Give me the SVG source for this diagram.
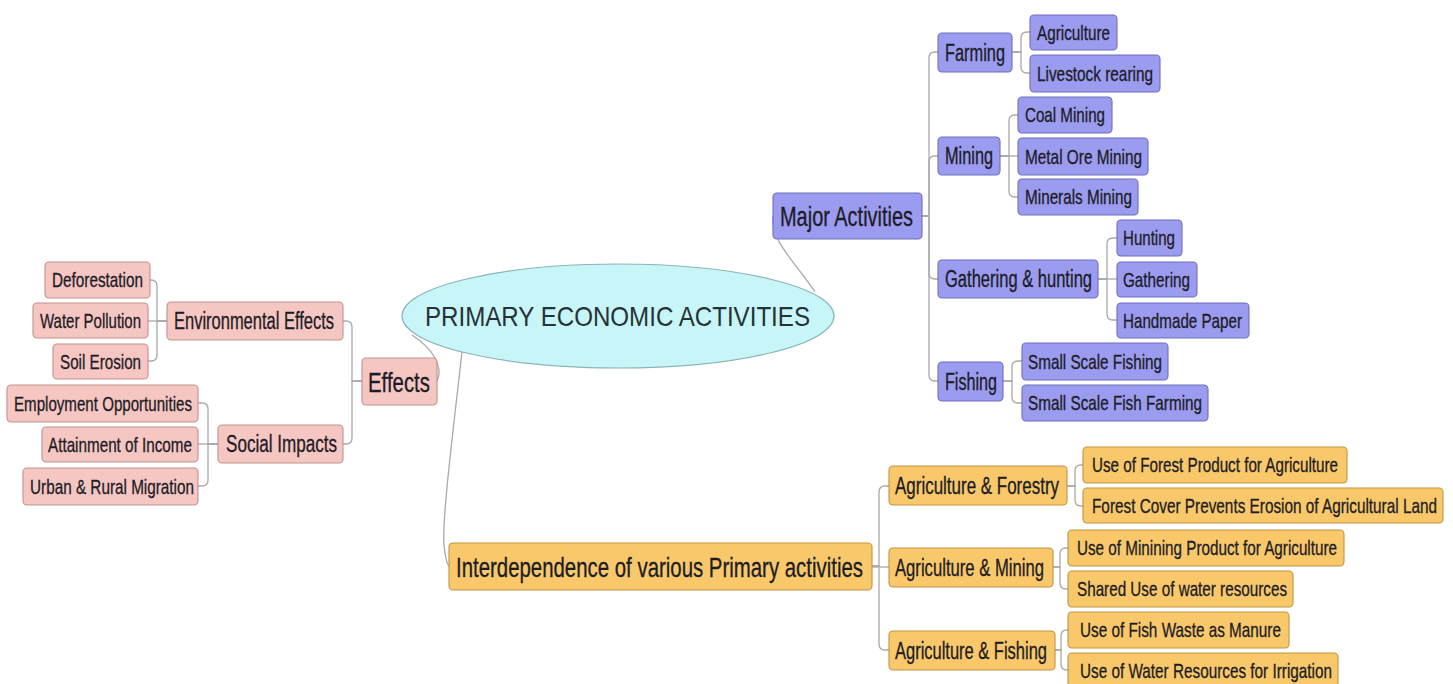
<svg xmlns="http://www.w3.org/2000/svg" width="1453" height="684" viewBox="0 0 1453 684">
<style>
text{font-family:"Liberation Sans",Arial,sans-serif;fill:#1c1c26;stroke:#1c1c26;stroke-width:0.3;}
.t1{font-size:20px;}
.t2{font-size:23px;}
.t3{font-size:27px;}
.p rect{fill:#f6c6c2;stroke:#c0928e;stroke-width:1.1;}
.b rect{fill:#9b9bef;stroke:#6f6fc0;stroke-width:1.1;}
.o rect{fill:#f9c86a;stroke:#c09444;stroke-width:1.1;}
#connectors path{fill:none;stroke:#a9a9a9;stroke-width:1.3;}
</style>
<rect width="1453" height="684" fill="#ffffff"/>
<g id="connectors">
<path d="M412 335 C432 348 444 366 437 381"/>
<path d="M815 292 C795 262 770 240 773 216"/>
<path d="M462 352 C452 440 442 520 444 545 Q446 564 449 566"/>
<path d="M167 321 H157 V286 Q157 280 151 280 H150"/>
<path d="M167 321 H148"/>
<path d="M167 321 H157 V355 Q157 361 151 361 H148"/>
<path d="M362 381 H352 V327 Q352 321 346 321 H343"/>
<path d="M362 381 H352 V438 Q352 444 346 444 H343"/>
<path d="M218 444 H208 V409 Q208 403 202 403 H198"/>
<path d="M218 444 H198"/>
<path d="M218 444 H208 V480 Q208 486 202 486 H198"/>
<path d="M922 216 H929 V58 Q929 52 935 52 H938"/>
<path d="M922 216 H929 V162 Q929 156 935 156 H938"/>
<path d="M922 216 H929 V273 Q929 279 935 279 H938"/>
<path d="M922 216 H929 V375 Q929 381 935 381 H938"/>
<path d="M1012 52 H1021 V38 Q1021 32 1027 32 H1030"/>
<path d="M1012 52 H1021 V67 Q1021 73 1027 73 H1030"/>
<path d="M1000 156 H1009 V121 Q1009 115 1015 115 H1018"/>
<path d="M1000 156 H1018"/>
<path d="M1000 156 H1009 V191 Q1009 197 1015 197 H1018"/>
<path d="M1098 279 H1107 V244 Q1107 238 1113 238 H1117"/>
<path d="M1098 279 H1117"/>
<path d="M1098 279 H1107 V314 Q1107 320 1113 320 H1117"/>
<path d="M1003 381 H1012 V367 Q1012 361 1018 361 H1022"/>
<path d="M1003 381 H1012 V397 Q1012 403 1018 403 H1022"/>
<path d="M872 566 H879 V492 Q879 486 885 486 H889"/>
<path d="M872 567 H889"/>
<path d="M872 566 H879 V644 Q879 650 885 650 H889"/>
<path d="M1067 486 H1075 V471 Q1075 465 1081 465 H1083"/>
<path d="M1067 486 H1075 V500 Q1075 506 1081 506 H1083"/>
<path d="M1053 567 H1060 V554 Q1060 548 1066 548 H1068"/>
<path d="M1053 567 H1060 V583 Q1060 589 1066 589 H1068"/>
<path d="M1055 650 H1061 V636 Q1061 630 1067 630 H1068"/>
<path d="M1055 650 H1061 V664 Q1061 670 1067 670 H1068"/>
</g>
<g id="root">
<ellipse cx="618" cy="316" rx="216" ry="52" fill="#c8f5f8" stroke="#8ab5b8" stroke-width="1.2"/>
<text transform="translate(425 326) scale(0.82 1)" font-size="28" textLength="469.5" lengthAdjust="spacingAndGlyphs" style="fill:#263236;stroke:none">PRIMARY ECONOMIC ACTIVITIES</text>
</g>
<g id="n-deforestation" class="p"><rect x="45" y="262" width="105" height="36" rx="4"/><text class="t1" transform="translate(52 287) scale(0.73 1)" textLength="124.7" lengthAdjust="spacingAndGlyphs">Deforestation</text></g>
<g id="n-water-pollution" class="p"><rect x="33" y="303" width="115" height="35" rx="4"/><text class="t1" transform="translate(40 327.5) scale(0.73 1)" textLength="138.4" lengthAdjust="spacingAndGlyphs">Water Pollution</text></g>
<g id="n-soil-erosion" class="p"><rect x="53" y="344" width="95" height="35" rx="4"/><text class="t1" transform="translate(60 368.5) scale(0.73 1)" textLength="111" lengthAdjust="spacingAndGlyphs">Soil Erosion</text></g>
<g id="n-environmental-effects" class="p"><rect x="167" y="302" width="176" height="38" rx="4"/><text class="t2" transform="translate(174 329) scale(0.73 1)" textLength="219.2" lengthAdjust="spacingAndGlyphs">Environmental Effects</text></g>
<g id="n-effects" class="p"><rect x="362" y="358" width="75" height="47" rx="4"/><text class="t3" transform="translate(368 391.5) scale(0.73 1)" textLength="84.9" lengthAdjust="spacingAndGlyphs">Effects</text></g>
<g id="n-employment" class="p"><rect x="7" y="385" width="191" height="37" rx="4"/><text class="t1" transform="translate(14 410.5) scale(0.73 1)" textLength="243.8" lengthAdjust="spacingAndGlyphs">Employment Opportunities</text></g>
<g id="n-attainment" class="p"><rect x="42" y="427" width="156" height="35" rx="4"/><text class="t1" transform="translate(48 451.5) scale(0.73 1)" textLength="197.3" lengthAdjust="spacingAndGlyphs">Attainment of Income</text></g>
<g id="n-migration" class="p"><rect x="23" y="468" width="175" height="37" rx="4"/><text class="t1" transform="translate(30 493.5) scale(0.73 1)" textLength="224.7" lengthAdjust="spacingAndGlyphs">Urban &amp; Rural Migration</text></g>
<g id="n-social-impacts" class="p"><rect x="218" y="425" width="125" height="38" rx="4"/><text class="t2" transform="translate(226 452) scale(0.73 1)" textLength="152.1" lengthAdjust="spacingAndGlyphs">Social Impacts</text></g>
<g id="n-major-activities" class="b"><rect x="773" y="193" width="149" height="46" rx="4"/><text class="t3" transform="translate(780 226) scale(0.73 1)" textLength="182.2" lengthAdjust="spacingAndGlyphs">Major Activities</text></g>
<g id="n-farming" class="b"><rect x="938" y="33" width="74" height="39" rx="4"/><text class="t2" transform="translate(945 60.5) scale(0.73 1)" textLength="82.2" lengthAdjust="spacingAndGlyphs">Farming</text></g>
<g id="n-agriculture" class="b"><rect x="1030" y="15" width="87" height="35" rx="4"/><text class="t1" transform="translate(1037 39.5) scale(0.73 1)" textLength="100" lengthAdjust="spacingAndGlyphs">Agriculture</text></g>
<g id="n-livestock" class="b"><rect x="1030" y="55" width="130" height="37" rx="4"/><text class="t1" transform="translate(1037 80.5) scale(0.73 1)" textLength="158.9" lengthAdjust="spacingAndGlyphs">Livestock rearing</text></g>
<g id="n-mining" class="b"><rect x="938" y="137" width="62" height="38" rx="4"/><text class="t2" transform="translate(945 164) scale(0.73 1)" textLength="65.8" lengthAdjust="spacingAndGlyphs">Mining</text></g>
<g id="n-coal-mining" class="b"><rect x="1018" y="97" width="94" height="36" rx="4"/><text class="t1" transform="translate(1025 122) scale(0.73 1)" textLength="109.6" lengthAdjust="spacingAndGlyphs">Coal Mining</text></g>
<g id="n-metal-ore" class="b"><rect x="1018" y="138" width="130" height="37" rx="4"/><text class="t1" transform="translate(1025 163.5) scale(0.73 1)" textLength="160.3" lengthAdjust="spacingAndGlyphs">Metal Ore Mining</text></g>
<g id="n-minerals" class="b"><rect x="1018" y="179" width="120" height="36" rx="4"/><text class="t1" transform="translate(1025 204) scale(0.73 1)" textLength="146.6" lengthAdjust="spacingAndGlyphs">Minerals Mining</text></g>
<g id="n-gathering-hunting" class="b"><rect x="938" y="260" width="160" height="38" rx="4"/><text class="t2" transform="translate(945 287) scale(0.73 1)" textLength="201.4" lengthAdjust="spacingAndGlyphs">Gathering &amp; hunting</text></g>
<g id="n-hunting" class="b"><rect x="1117" y="220" width="65" height="36" rx="4"/><text class="t1" transform="translate(1123 245) scale(0.73 1)" textLength="71.2" lengthAdjust="spacingAndGlyphs">Hunting</text></g>
<g id="n-gathering" class="b"><rect x="1117" y="262" width="80" height="35" rx="4"/><text class="t1" transform="translate(1123 286.5) scale(0.73 1)" textLength="91.8" lengthAdjust="spacingAndGlyphs">Gathering</text></g>
<g id="n-handmade-paper" class="b"><rect x="1117" y="303" width="132" height="35" rx="4"/><text class="t1" transform="translate(1123 327.5) scale(0.73 1)" textLength="163" lengthAdjust="spacingAndGlyphs">Handmade Paper</text></g>
<g id="n-fishing" class="b"><rect x="938" y="362" width="65" height="39" rx="4"/><text class="t2" transform="translate(945 389.5) scale(0.73 1)" textLength="71.2" lengthAdjust="spacingAndGlyphs">Fishing</text></g>
<g id="n-small-scale-fishing" class="b"><rect x="1022" y="343" width="146" height="37" rx="4"/><text class="t1" transform="translate(1028 368.5) scale(0.73 1)" textLength="183.6" lengthAdjust="spacingAndGlyphs">Small Scale Fishing</text></g>
<g id="n-small-scale-fish-farming" class="b"><rect x="1022" y="385" width="186" height="36" rx="4"/><text class="t1" transform="translate(1028 410) scale(0.73 1)" textLength="238.4" lengthAdjust="spacingAndGlyphs">Small Scale Fish Farming</text></g>
<g id="n-interdependence" class="o"><rect x="449" y="543" width="423" height="47" rx="4"/><text class="t3" transform="translate(456 576.5) scale(0.73 1)" textLength="557.5" lengthAdjust="spacingAndGlyphs">Interdependence of various Primary activities</text></g>
<g id="n-ag-forestry" class="o"><rect x="889" y="466" width="178" height="39" rx="4"/><text class="t2" transform="translate(895 493.5) scale(0.73 1)" textLength="224.7" lengthAdjust="spacingAndGlyphs">Agriculture &amp; Forestry</text></g>
<g id="n-ag-mining" class="o"><rect x="889" y="548" width="164" height="39" rx="4"/><text class="t2" transform="translate(895 575.5) scale(0.73 1)" textLength="204.1" lengthAdjust="spacingAndGlyphs">Agriculture &amp; Mining</text></g>
<g id="n-ag-fishing" class="o"><rect x="889" y="631" width="166" height="39" rx="4"/><text class="t2" transform="translate(895 658.5) scale(0.73 1)" textLength="208.2" lengthAdjust="spacingAndGlyphs">Agriculture &amp; Fishing</text></g>
<g id="n-forest-product" class="o"><rect x="1083" y="447" width="264" height="36" rx="4"/><text class="t1" transform="translate(1092 472) scale(0.73 1)" textLength="337" lengthAdjust="spacingAndGlyphs">Use of Forest Product for Agriculture</text></g>
<g id="n-forest-cover" class="o"><rect x="1083" y="488" width="360" height="35" rx="4"/><text class="t1" transform="translate(1092 512.5) scale(0.73 1)" textLength="472.6" lengthAdjust="spacingAndGlyphs">Forest Cover Prevents Erosion of Agricultural Land</text></g>
<g id="n-minining-product" class="o"><rect x="1068" y="530" width="276" height="36" rx="4"/><text class="t1" transform="translate(1077 555) scale(0.73 1)" textLength="356.2" lengthAdjust="spacingAndGlyphs">Use of Minining Product for Agriculture</text></g>
<g id="n-shared-water" class="o"><rect x="1068" y="571" width="225" height="36" rx="4"/><text class="t1" transform="translate(1077 596) scale(0.73 1)" textLength="287.7" lengthAdjust="spacingAndGlyphs">Shared Use of water resources</text></g>
<g id="n-fish-waste" class="o"><rect x="1068" y="612" width="221" height="36" rx="4"/><text class="t1" transform="translate(1080 637) scale(0.73 1)" textLength="275.3" lengthAdjust="spacingAndGlyphs">Use of Fish Waste as Manure</text></g>
<g id="n-water-irrigation" class="o"><rect x="1068" y="653" width="270" height="34" rx="4"/><text class="t1" transform="translate(1080 678) scale(0.73 1)" textLength="345.2" lengthAdjust="spacingAndGlyphs">Use of Water Resources for Irrigation</text></g>
</svg>
